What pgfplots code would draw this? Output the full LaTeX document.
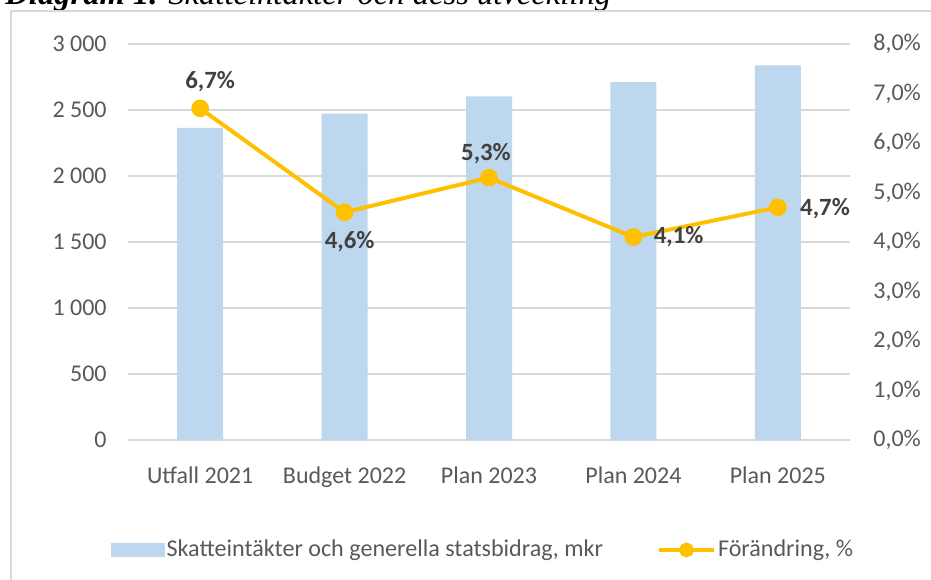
\documentclass[border=0pt]{standalone}
\usepackage{fontspec}
\setmainfont{Carlito}
\newfontfamily\titlefont{Liberation Serif}
\usepackage{pgfplots}
\pgfplotsset{compat=1.18}
\definecolor{barblue}{HTML}{BDD7EE}
\definecolor{lineyellow}{HTML}{FFC000}
\definecolor{gridgray}{HTML}{D9D9D9}
\definecolor{ticktext}{HTML}{595959}
\definecolor{labeltext}{HTML}{404040}
\pgfplotsset{
  lbl/.style={draw=none, forget plot, nodes near coords, point meta=explicit symbolic,
    nodes near coords style={anchor=center, inner sep=0pt, font=\bfseries\fontsize{12.4}{14}\selectfont, text=labeltext}},
  barlegend/.style={legend image code/.code={\fill[barblue] (0pt,-3.35pt) rectangle (26.3pt,3.35pt);}},
  linelegend/.style={legend image code/.code={\draw[mark repeat=2,mark phase=2,mark size=2.7pt,##1] plot coordinates {(0pt,0pt) (13.75pt,0pt) (27.5pt,0pt)};}},
}
\begin{document}
\begin{tikzpicture}[x=1pt,y=1pt]
\node[anchor=base west, inner sep=0, font=\titlefont\itshape\fontsize{16.3}{18}\selectfont, text=black] at (2.5,287) {\textbf{Diagram 1.} Skatteintäkter och dess utveckling};
\draw[gridgray, line width=0.75pt] (5.5,-10) -- (5.5,284) -- (480,284);

\begin{axis}[
  at={(64pt,69.5pt)}, anchor=south west, scale only axis,
  width=361pt, height=198pt,
  xmin=-0.5, xmax=4.5, ymin=0, ymax=3000,
  ytick={0,500,1000,1500,2000,2500,3000},
  yticklabels={0,500,1 000,1 500,2 000,2 500,3 000},
  xtick={0,1,2,3,4},
  xticklabels={Utfall 2021,Budget 2022,Plan 2023,Plan 2024,Plan 2025},
  axis x line*=bottom, axis y line*=left,
  axis line style={draw=none},
  ymajorgrids, grid style={gridgray, line width=0.75pt},
  major tick length=0pt,
  tick label style={font=\fontsize{12}{14}\selectfont, text=ticktext},
  yticklabel style={anchor=east, inner sep=0pt, xshift=-10.5pt},
  xticklabel style={anchor=north, inner sep=0pt, yshift=-13pt},
  clip=false,
]
\addplot[ybar, bar width=23pt, fill=barblue, draw=none] coordinates {(0,2364) (1,2473) (2,2604) (3,2711) (4,2838)};
\end{axis}

\begin{axis}[
  at={(64pt,69.5pt)}, anchor=south west, scale only axis,
  width=361pt, height=198pt,
  xmin=-0.5, xmax=4.5, ymin=0, ymax=8,
  ytick={0,1,2,3,4,5,6,7,8},
  yticklabels={{0,0\%},{1,0\%},{2,0\%},{3,0\%},{4,0\%},{5,0\%},{6,0\%},{7,0\%},{8,0\%}},
  axis x line=none, axis y line*=right,
  axis line style={draw=none},
  major tick length=0pt,
  tick label style={font=\fontsize{12}{14}\selectfont, text=ticktext},
  yticklabel style={anchor=west, inner sep=0pt, xshift=11.5pt},
  clip=false,
  legend style={at={(-0.0238,-0.2777)}, anchor=west, draw=none, fill=none, inner sep=0pt,
    font=\fontsize{12.05}{14}\selectfont, text=ticktext, nodes={inner sep=1pt},
    /tikz/every even column/.append style={column sep=26pt}},
  legend columns=2, legend cell align=left,
]
\addlegendimage{barlegend}
\addlegendentry{Skatteintäkter och generella statsbidrag, mkr}
\addplot[lineyellow, line width=2pt, mark=*, mark size=3.4pt,
  mark options={fill=lineyellow, draw=none}, linelegend]
  coordinates {(0,6.7) (1,4.6) (2,5.3) (3,4.1) (4,4.7)};
\addlegendentry{Förändring, \%}
\addplot[lbl, nodes near coords style={xshift=5pt, yshift=13.5pt}] coordinates {(0,6.7) [6,7\%]};
\addplot[lbl, nodes near coords style={xshift=2.5pt, yshift=-14.5pt}] coordinates {(1,4.6) [4,6\%]};
\addplot[lbl, nodes near coords style={xshift=-1.5pt, yshift=12pt}] coordinates {(2,5.3) [5,3\%]};
\addplot[lbl, nodes near coords style={anchor=west, xshift=10pt, yshift=0.3pt}] coordinates {(3,4.1) [4,1\%]};
\addplot[lbl, nodes near coords style={anchor=west, xshift=11pt, yshift=-0.7pt}] coordinates {(4,4.7) [4,7\%]};
\end{axis}
\pgfresetboundingbox
\useasboundingbox (0,0) rectangle (465.5,289.5);
\end{tikzpicture}
\end{document}
